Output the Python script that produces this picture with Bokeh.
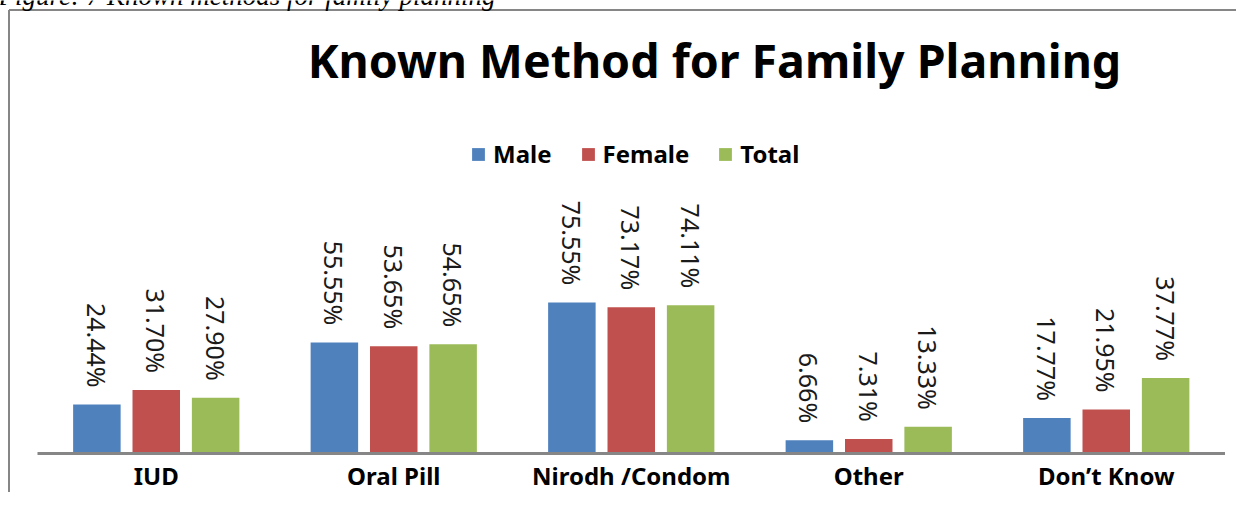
import numpy as np
from bokeh.plotting import figure
from bokeh.models import ColumnDataSource, Range1d, Label, Legend, LegendItem
from bokeh.transform import dodge
from bokeh.core.properties import value
from bokeh.embed import file_html
from bokeh.resources import INLINE

# ---- data ----
categories = ["IUD", "Oral Pill", "Nirodh /Condom", "Other", "Don\u2019t Know"]
male = [24.44, 55.55, 75.55, 6.66, 17.77]
female = [31.70, 53.65, 73.17, 7.31, 21.95]
total = [27.90, 54.65, 74.11, 13.33, 37.77]
series_names = ["Male", "Female", "Total"]
title_text = "Known Method for Family Planning"
caption_text = "Figure: 7 Known methods for family planning"

colors = ["#4F81BD", "#C0504D", "#9BBB59"]
offsets = [-0.25, 0.0, 0.25]

idx = list(range(len(categories)))
data = dict(idx=idx, cat=categories, Male=male, Female=female, Total=total)
for name, vals in zip(series_names, [male, female, total]):
    data[name + "_lbl"] = [f"{v:.2f}%" for v in vals]
src = ColumnDataSource(data)

W, H = 1236, 492
PPU = 237.5          # pixels per category
X0 = -155.75 / PPU   # left of frame in category units
Y_TOP, Y_BOT = 226.5, -19.5
p = figure(width=W, height=H, output_backend="svg", toolbar_location=None,
           x_range=Range1d(X0, X0 + W / PPU), y_range=Range1d(Y_BOT, Y_TOP),
           x_axis_location=None, y_axis_location=None, min_border=0)
p.grid.visible = False
p.outline_line_color = None
p.background_fill_color = "white"
p.border_fill_color = "white"

# chart box border (left and top edges of the embedded chart)
bx = X0 + 8.5 / PPU
by = Y_TOP - 9.5 / 2
p.segment(x0=[bx, bx], y0=[by, by], x1=[bx, X0 + W / PPU], y1=[Y_BOT, by],
          line_color="#868686", line_width=2)

# document caption, cut at the top edge as in the source
p.add_layout(Label(x=-2, y=H + 5, x_units="screen", y_units="screen", text=caption_text,
                   text_align="left", text_baseline="alphabetic",
                   text_font="Liberation Serif", text_font_style="italic",
                   text_font_size="27px", text_color="black"))

renderers = []
for name, off, color in zip(series_names, offsets, colors):
    r = p.vbar(x=dodge("idx", off, range=p.x_range), top=name, bottom=0, width=0.2,
               source=src, fill_color=color, line_color=None)
    renderers.append(r)
    p.text(x=dodge("idx", off, range=p.x_range), y=name, text=name + "_lbl",
           angle=-np.pi / 2, y_offset=-17, text_align="right", text_baseline="middle",
           text_font=value("Noto Sans"), text_font_size="25px", text_color="#1a1a1a",
           source=src)

# baseline (category axis line)
p.segment(x0=idx[0] - 0.5, y0=0, x1=idx[-1] + 0.5, y1=0, line_color="#868686", line_width=3)

# category labels
p.text(x="idx", y=-11, text="cat", text_align="center", text_baseline="alphabetic",
       text_font=value("Noto Sans"), text_font_style="bold", text_font_size="24px",
       text_color="black", source=src)

# title
p.add_layout(Label(x=714, y=H - 59, x_units="screen", y_units="screen", text=title_text,
                   text_align="center", text_baseline="alphabetic",
                   text_font="Noto Sans", text_font_style="bold", text_font_size="46.5px",
                   text_color="black"))

legend = Legend(items=[LegendItem(label=n, renderers=[r]) for n, r in zip(series_names, renderers)],
                orientation="horizontal", location=(470, 322),
                glyph_width=16, glyph_height=16, label_standoff=7, spacing=28,
                padding=0, margin=0, border_line_color=None, background_fill_alpha=0,
                label_text_font="Noto Sans", label_text_font_style="bold",
                label_text_font_size="24px", label_height=24, label_text_color="black")
p.add_layout(legend, "center")

open("out.html", "w").write(file_html(p, INLINE))
